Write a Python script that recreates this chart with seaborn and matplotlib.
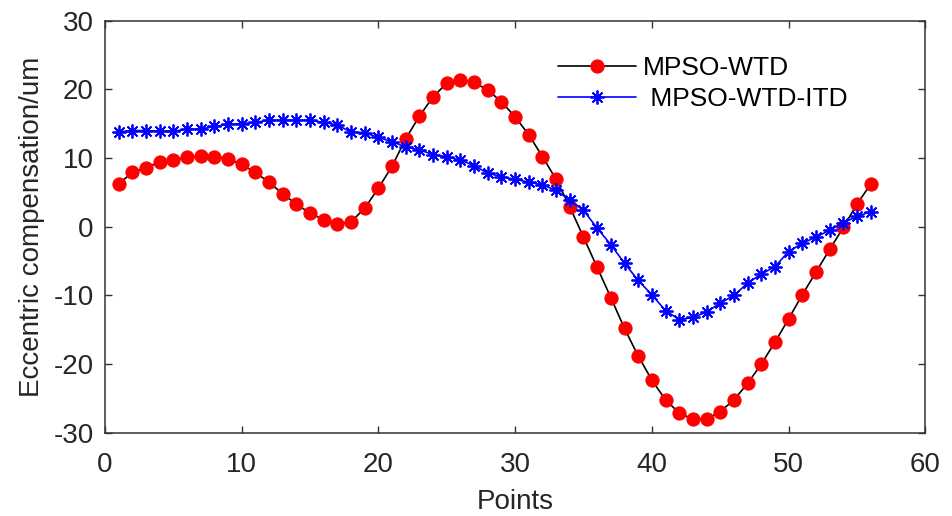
import matplotlib
matplotlib.use("Agg")
import matplotlib.pyplot as plt
import seaborn as sns
import numpy as np

points = list(range(1, 57))

mpso_wtd = [
    6.2, 7.9, 8.6, 9.4, 9.7, 10.1, 10.3, 10.2, 9.9, 9.1,
    7.9, 6.5, 4.8, 3.3, 2.0, 1.0, 0.4, 0.7, 2.7, 5.6,
    8.8, 12.8, 16.1, 18.9, 20.9, 21.4, 21.0, 19.9, 18.2, 16.0,
    13.4, 10.2, 6.9, 2.9, -1.5, -5.9, -10.3, -14.8, -18.8, -22.3,
    -25.2, -27.1, -28.0, -28.0, -26.9, -25.2, -22.8, -20.0, -16.8, -13.4,
    -9.9, -6.6, -3.3, -0.1, 3.3, 6.2,
]

mpso_wtd_itd = [
    13.8, 14.0, 14.0, 13.9, 13.9, 14.2, 14.2, 14.6, 14.9, 15.0,
    15.2, 15.5, 15.5, 15.5, 15.5, 15.2, 14.8, 13.8, 13.7, 13.0,
    12.4, 11.6, 11.2, 10.5, 10.2, 9.7, 8.9, 7.8, 7.3, 6.9,
    6.5, 6.1, 5.3, 3.9, 2.4, -0.2, -2.6, -5.3, -7.8, -9.9,
    -12.2, -13.5, -13.2, -12.4, -11.1, -10.0, -8.2, -6.9, -5.8, -3.6,
    -2.4, -1.5, -0.5, 0.6, 1.5, 2.2,
]

x_ticks = [0, 10, 20, 30, 40, 50, 60]
y_ticks = [-30, -20, -10, 0, 10, 20, 30]

sns.set_style("white")
plt.rcParams["font.family"] = ["Liberation Sans", "DejaVu Sans"]
plt.rcParams["axes.unicode_minus"] = False

fig = plt.figure(figsize=(9.53, 5.16), dpi=100)
ax = fig.add_axes([0.110, 0.161, 0.861, 0.799])

sns.lineplot(x=points, y=mpso_wtd, ax=ax, color="black", linewidth=1.2,
             marker="o", markersize=9.5, markerfacecolor="red",
             markeredgecolor="red", label="MPSO-WTD")
sns.lineplot(x=points, y=mpso_wtd_itd, ax=ax, color="blue", linewidth=1.2,
             marker=(8, 2, 0), markersize=10, markeredgewidth=1.3,
             markeredgecolor="blue", label=" MPSO-WTD-ITD")

ax.set_xlim(0, 60)
ax.set_ylim(-30, 30)
ax.set_xticks(x_ticks)
ax.set_yticks(y_ticks)

text_color = "#262626"
ax.tick_params(direction="in", length=5, width=1.0, colors="#333333",
               labelcolor=text_color, labelsize=20, top=True, right=True,
               bottom=True, left=True)
ax.tick_params(axis="x", pad=14)
ax.tick_params(axis="y", pad=8)
for side in ["top", "right", "bottom", "left"]:
    ax.spines[side].set_visible(True)
    ax.spines[side].set_color("#333333")
    ax.spines[side].set_linewidth(1.1)

ax.set_xlabel("Points", fontsize=20, color=text_color, labelpad=8)
ax.set_ylabel("Eccentric compensation/um", fontsize=20, color=text_color, labelpad=6)

leg = ax.legend(loc="upper left", bbox_to_anchor=(0.530, 0.958), frameon=False,
                fontsize=19, handlelength=2.95, handletextpad=0.25,
                labelspacing=0.25, borderpad=0.2)
for t in leg.get_texts():
    t.set_color("black")

fig.savefig("out.png", dpi=100)
